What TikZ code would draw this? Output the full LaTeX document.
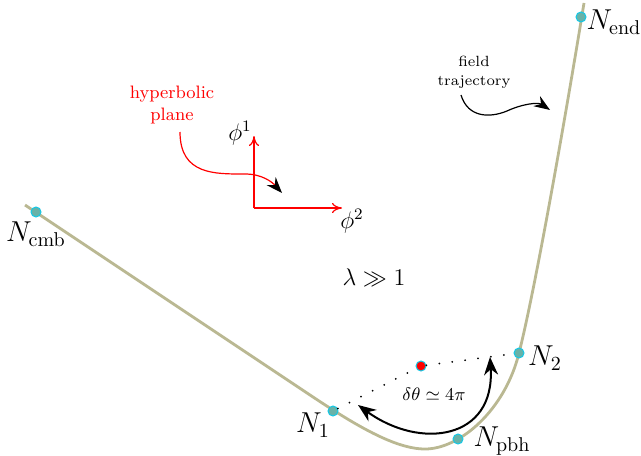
\documentclass[tikz,border=0pt]{standalone}
\usetikzlibrary{arrows.meta}
\definecolor{traj}{RGB}{186,184,146}
\definecolor{dotfill}{RGB}{104,178,168}
\definecolor{dotedge}{RGB}{20,200,230}
\begin{document}
\begin{tikzpicture}[x=0.5pt,y=-0.5pt,
  pt/.style={circle,fill=dotfill,draw=dotedge,line width=0.5pt,inner sep=0pt,minimum size=5pt},
  lab/.style={font=\large,inner sep=0pt},
  nlab/.style={font=\Large,inner sep=0pt},
  note/.style={align=center,inner sep=0pt,font=\fontsize{7.4}{9.5}\selectfont},
  axis/.style={red,line width=0.6pt,-{To[length=5pt,width=5pt]}}]
\useasboundingbox (0,0) rectangle (641,455);
% trajectory
\draw[traj,line width=1.4pt] (25,205) -- (310,395)
  .. controls (355,425) and (395,449) .. (425,449)
  .. controls (460,449) and (505,410) .. (519,353)
  .. controls (535,290) and (565,120) .. (584,3);
% points
\node[pt] (cmb) at (36,212) {};
\node[pt] (n1) at (333,411) {};
\node[pt] (pbh) at (458,439) {};
\node[pt] (n2) at (519,353) {};
\node[pt] (end) at (581,17) {};
\node[pt,fill=red] (bh) at (421,366) {};
% labels
\node[nlab] (lcmb) at (36,234) {$N_{\rm cmb}$};
\node[nlab] (ln1) at (313,425) {$N_1$};
\node[nlab] (lpbh) at (502,441) {$N_{\rm pbh}$};
\node[nlab] (ln2) at (545,358) {$N_2$};
\node[nlab] (lend) at (614,22) {$N_{\rm end}$};
\node[lab] (lam) at (374,278) {$\lambda\gg 1$};
% dotted
\draw[line width=1pt,line cap=round,dash pattern=on 0pt off 6.5pt] (n1) -- (bh) -- (n2);
% double arrow
\coordinate (a1) at (358,405);
\coordinate (a2) at (490,357);
\draw[line width=1pt,{Stealth[length=9pt,width=7pt]}-{Stealth[length=9pt,width=7pt]}] (a1) .. controls (420,450) and (495,440) .. (a2);
\node[note,font=\fontsize{8.8}{10}\selectfont] (dt) at (434,394) {$\delta\theta\simeq 4\pi$};
% axes
\coordinate (o) at (254,208);
\coordinate (y1) at (254,136);
\coordinate (x1) at (342,208);
\draw[axis] (o) -- (y1);
\draw[axis] (o) -- (x1);
\node[lab] (phi1) at (240,133) {$\phi^1$};
\node[lab] (phi2) at (352,221) {$\phi^2$};
% hyperbolic plane
\node[note,red,font=\small] (hp) at (172,105) {hyperbolic\\plane};
\coordinate (h1) at (282,193);
\draw[red,line width=0.6pt,-{Stealth[length=8pt,width=6pt,black]}] (180,132) .. controls (180,175) and (215,174) .. (245,174) .. controls (262,174) and (272,182) .. (h1);
% field trajectory
\node[note] (ft) at (474,72) {field\\trajectory};
\coordinate (f1) at (550,110);
\draw[line width=0.6pt,-{Stealth[length=8pt,width=6pt]}] (461,95) .. controls (468,118) and (490,118) .. (507,111) .. controls (522,104) and (538,102) .. (f1);
\end{tikzpicture}
\end{document}
